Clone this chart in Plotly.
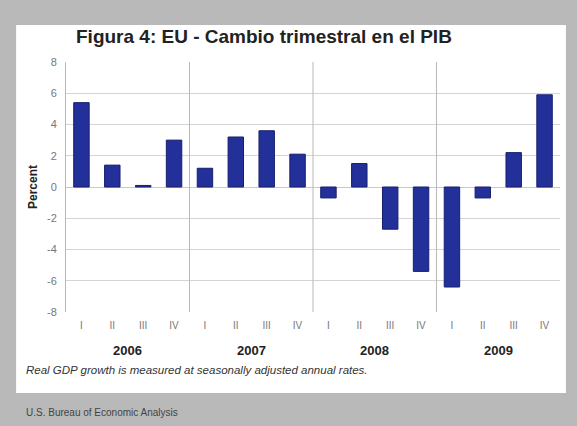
import plotly.graph_objects as go

# Quarterly change in real GDP, 2006-2009 (percent, seasonally adjusted annual rate)
quarters = ["I", "II", "III", "IV"] * 4
years = ["2006", "2007", "2008", "2009"]
gdp_change = [5.4, 1.4, 0.1, 3.0,
              1.2, 3.2, 3.6, 2.1,
              -0.7, 1.5, -2.7, -5.4,
              -6.4, -0.7, 2.2, 5.9]
y_ticks = [-8, -6, -4, -2, 0, 2, 4, 6, 8]
y_tick_text = [str(v) for v in y_ticks]  # plain hyphen for negatives

FONT = "Arial, Liberation Sans, sans-serif"
idx = list(range(len(gdp_change)))

fig = go.Figure()
fig.add_trace(go.Bar(
    x=idx, y=gdp_change, width=0.5,
    marker=dict(color="#24309a", line=dict(color="#161e6e", width=1)),
    showlegend=False,
))

# white card behind the chart on a grey page
fig.add_shape(type="rect", xref="paper", yref="paper", layer="below",
              x0=-0.101, x1=1.012, y0=-0.324, y1=1.148,
              fillcolor="white", line=dict(width=0))

# year separators
for k in range(1, len(years)):
    fig.add_shape(type="line", xref="x", yref="paper",
                  x0=4 * k - 0.5, x1=4 * k - 0.5, y0=0, y1=1,
                  line=dict(color="#b8b8b8", width=1))

# year labels centred under each group of quarters
for k, yr in enumerate(years):
    fig.add_annotation(x=4 * k + 1.5, xref="x", y=-0.152, yref="paper",
                       xanchor="center", yanchor="middle",
                       text="<b>%s</b>" % yr, showarrow=False,
                       font=dict(family=FONT, size=13, color="#222"))

fig.add_annotation(x=0.016, xref="paper", y=1.1, yref="paper",
                   xanchor="left", yanchor="middle", showarrow=False,
                   text="<b>Figura 4: EU - Cambio trimestral en el PIB</b>",
                   font=dict(family=FONT, size=19, color="#222"))

fig.add_annotation(x=-0.085, xref="paper", y=-0.232, yref="paper",
                   xanchor="left", yanchor="middle", showarrow=False,
                   text="<i>Real GDP growth is measured at seasonally adjusted annual rates.</i>",
                   font=dict(family=FONT, size=11.5, color="#333"))

fig.add_annotation(x=-0.085, xref="paper", y=-0.4, yref="paper",
                   xanchor="left", yanchor="middle", showarrow=False,
                   text="U.S. Bureau of Economic Analysis",
                   font=dict(family=FONT, size=10, color="#444"))

fig.update_layout(
    width=577, height=426,
    margin=dict(l=66, r=17, t=62, b=114),
    paper_bgcolor="#b9b9b9",
    plot_bgcolor="white",
    bargap=0.5,
    xaxis=dict(
        range=[-0.5, 15.5], tickmode="array", tickvals=idx, ticktext=quarters,
        showgrid=False, zeroline=False, showline=False, ticks="",
        ticklabelstandoff=6,
        tickfont=dict(family=FONT, size=10, color="#777"),
    ),
    yaxis=dict(
        range=[-8, 8], tickmode="array", tickvals=y_ticks, ticktext=y_tick_text,
        showgrid=True, gridcolor="#d4d4d4", gridwidth=1,
        zeroline=True, zerolinecolor="#c8c8c8", zerolinewidth=1,
        showline=True, linecolor="#b8b8b8", linewidth=1,
        ticklabelstandoff=6,
        tickfont=dict(family=FONT, size=11, color="#777"),
        title=dict(text="<b>Percent</b>", standoff=6,
                   font=dict(family=FONT, size=12, color="#222")),
    ),
)

fig.write_html("out.html")
